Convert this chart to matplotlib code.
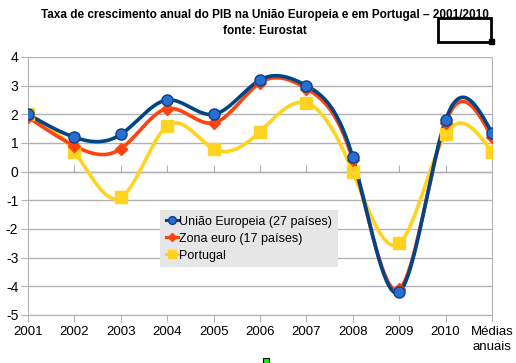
import matplotlib
matplotlib.use("Agg")
import matplotlib.pyplot as plt
from matplotlib.lines import Line2D
from matplotlib.patches import Rectangle
import numpy as np

categories = ["2001", "2002", "2003", "2004", "2005", "2006", "2007",
              "2008", "2009", "2010", "Médias\nanuais"]
ue27 = [2.0, 1.2, 1.3, 2.5, 2.0, 3.2, 3.0, 0.5, -4.2, 1.8, 1.35]
zona_euro = [1.9, 0.9, 0.8, 2.2, 1.7, 3.1, 2.9, 0.4, -4.1, 1.7, 1.2]
portugal = [2.0, 0.7, -0.9, 1.6, 0.8, 1.4, 2.4, 0.0, -2.5, 1.3, 0.68]
y_ticks = [4, 3, 2, 1, 0, -1, -2, -3, -4, -5]

title = "Taxa de crescimento anual do PIB na União Europeia e em Portugal – 2001/2010\nfonte: Eurostat"


def natural_spline(y, n=400):
    # natural cubic spline through equally spaced points, used for the smooth lines
    y = np.asarray(y, dtype=float)
    k = len(y)
    A = np.zeros((k, k))
    b = np.zeros(k)
    A[0, 0] = A[-1, -1] = 1.0
    for i in range(1, k - 1):
        A[i, i - 1], A[i, i], A[i, i + 1] = 1.0, 4.0, 1.0
        b[i] = 6.0 * (y[i + 1] - 2 * y[i] + y[i - 1])
    m = np.linalg.solve(A, b)
    xs = np.linspace(0, k - 1, n)
    idx = np.clip(np.floor(xs).astype(int), 0, k - 2)
    t = xs - idx
    ys = ((1 - t) * y[idx] + t * y[idx + 1]
          + ((1 - t) ** 3 - (1 - t)) * m[idx] / 6.0
          + (t ** 3 - t) * m[idx + 1] / 6.0)
    return xs, ys


plt.rcParams['font.family'] = ['Liberation Sans', 'DejaVu Sans']
plt.rcParams['axes.unicode_minus'] = False

fig = plt.figure(figsize=(5.16, 3.63), dpi=100)
ax = fig.add_axes([28 / 516, 1 - 315 / 363, 464 / 516, 258 / 363])

x = np.arange(len(categories))
series = [
    (ue27, "União Europeia (27 países)", "#004586", "o", "#2a6fd0", 8),
    (zona_euro, "Zona euro (17 países)", "#ff420e", "D", "#ff420e", 6),
    (portugal, "Portugal", "#ffd320", "s", "#ffd320", 8.5),
]
for vals, lab, col, mk, mfc, ms in series[::-1]:
    xs, ys = natural_spline(vals)
    ax.plot(xs, ys, color=col, lw=2.6, zorder=3, solid_capstyle="round")
    ax.plot(x, vals, ls="none", marker=mk, ms=ms, mfc=mfc,
            mec=col if mk != "o" else "#0a3f8a", mew=1, zorder=4)
handles = []
for vals, lab, col, mk, mfc, ms in series:
    handles.append(Line2D([0], [0], color=col, lw=2.2, marker=mk, ms=ms * 0.7,
                          mfc=mfc, mec=col if mk != "o" else "#0a3f8a",
                          label=lab))

ax.set_xlim(0, 10)
ax.set_ylim(-5, 4)
ax.set_yticks(y_ticks)
ax.set_xticks(x)
ax.set_xticklabels(categories, fontsize=9.5, linespacing=1.3)
ax.tick_params(axis="y", length=5, color="#b3b3b3", labelsize=10, pad=2)
ax.tick_params(axis="x", length=5, color="#b3b3b3", pad=3)
ax.grid(axis="y", color="#b3b3b3", lw=1)
ax.set_axisbelow(True)
for s in ax.spines.values():
    s.set_color("#b3b3b3")
ax.spines["top"].set_visible(False)

# ticks along the zero line
sec = ax.secondary_xaxis(5 / 9)
sec.set_xticks(x)
sec.set_xticklabels([])
sec.tick_params(length=5, color="#b3b3b3", direction="out")
sec.spines["bottom"].set_color("#b3b3b3")

leg = ax.legend(handles=handles, loc="upper left",
                bbox_to_anchor=(160 / 516, 1 - 210 / 363),
                bbox_transform=fig.transFigure, fontsize=9,
                frameon=True, fancybox=False, facecolor="#e6e6e6",
                edgecolor="none", framealpha=1, handlelength=1.0,
                handletextpad=0.1, borderpad=0.45, labelspacing=0.4,
                borderaxespad=0)
leg.set_zorder(5)

fig.text(265 / 516, 1 - 23 / 363, title, ha="center", va="center",
         fontsize=8.5, fontweight="bold", linespacing=1.5,
         family=['Liberation Sans Narrow', 'Liberation Sans', 'DejaVu Sans'])

# stray boxes from the original sheet
fig.add_artist(Rectangle((438 / 516, 1 - 42 / 363), 53 / 516, 24 / 363,
                         transform=fig.transFigure, fill=False, lw=2,
                         edgecolor="black"))
fig.add_artist(Rectangle((489 / 516, 1 - 44 / 363), 5 / 516, 5 / 363,
                         transform=fig.transFigure, color="black"))
fig.add_artist(Rectangle((263 / 516, 1 - 363 / 363), 6 / 516, 5 / 363,
                         transform=fig.transFigure, facecolor="#00ff00",
                         edgecolor="black", lw=0.8))

fig.savefig("out.png", dpi=100)
